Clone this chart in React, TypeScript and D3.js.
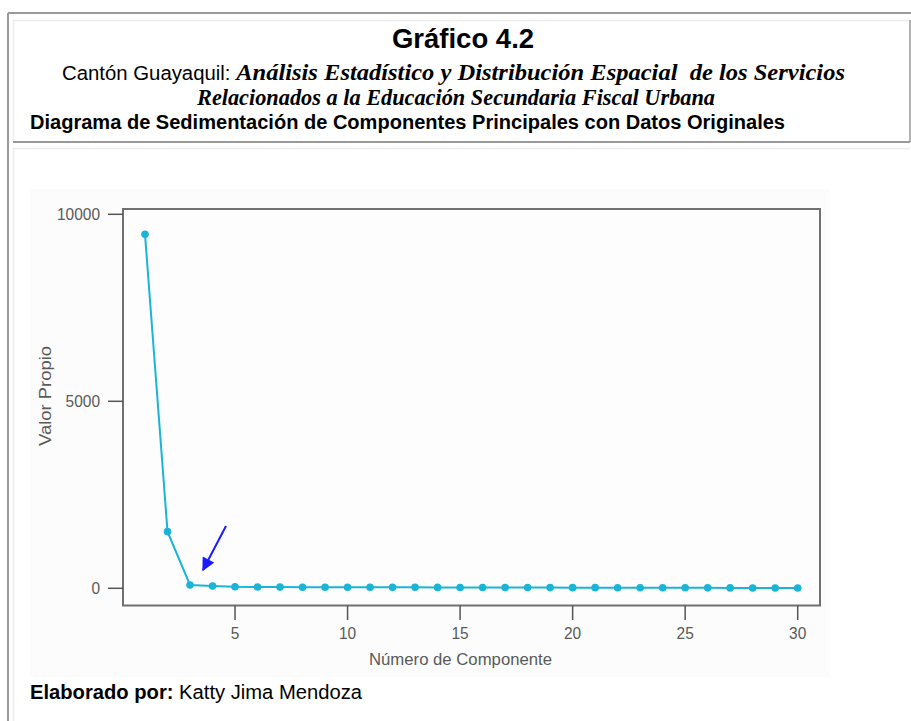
import React from "react";
import * as d3 from "d3";

const components = d3.range(1, 31);
const eigenvalues = [
  9465, 1515, 90, 60, 40, 35, 32, 30, 29, 28, 27, 26, 25, 24, 23, 22, 21, 20, 19, 18, 17, 16, 15, 14, 13, 12, 11, 10, 9, 8,
];
const xTicks = [5, 10, 15, 20, 25, 30];
const yTicks = [0, 5000, 10000];

const W = 911;
const H = 721;
const plot = { left: 123, top: 209, right: 820, bottom: 605.5 };

export default function App() {
  const x = d3.scaleLinear().domain([1, 30]).range([145, 797.7]);
  const y = d3.scaleLinear().domain([0, 10000]).range([588.3, 214.3]);
  const line = d3
    .line<number>()
    .x((_, i) => x(components[i]))
    .y((d) => y(d));

  const sans = "'Liberation Sans', Arial, sans-serif";
  const serif = "'Liberation Serif', 'Times New Roman', serif";
  const axisFont = "'Liberation Sans', Arial, sans-serif";
  const axisColor = "#5a5a5a";
  const lineColor = "#1ab4d6";
  const digitW = 8.6;

  return (
    <svg
      width={W}
      height={H}
      style={{ position: "absolute", left: 0, top: 0, background: "#fff" }}
    >
      {/* outer frame */}
      <line x1={8} y1={13} x2={W} y2={13} stroke="#9a9a9a" strokeWidth={2} />
      <line x1={8} y1={13} x2={8} y2={H} stroke="#9a9a9a" strokeWidth={2} />
      {/* header cell */}
      <line x1={13} y1={20.5} x2={910} y2={20.5} stroke="#ececec" strokeWidth={1.5} />
      <line x1={13.5} y1={20} x2={13.5} y2={142} stroke="#ececec" strokeWidth={1.5} />
      <line x1={13} y1={142} x2={910} y2={142} stroke="#9a9a9a" strokeWidth={2} />
      <line x1={910} y1={20} x2={910} y2={142} stroke="#9a9a9a" strokeWidth={1.5} />
      {/* chart cell */}
      <line x1={13} y1={148.5} x2={910} y2={148.5} stroke="#ececec" strokeWidth={1.5} />
      <line x1={13.5} y1={148} x2={13.5} y2={H} stroke="#ececec" strokeWidth={1.5} />

      {/* header text */}
      <text x={463} y={48} textAnchor="middle" fontFamily={sans} fontWeight="bold" fontSize={27.5}>
        Gráfico 4.2
      </text>
      <text x={62} y={79.5} textLength={783} lengthAdjust="spacingAndGlyphs">
        <tspan fontFamily={sans} fontSize={19.5}>
          Cantón Guayaquil:{" "}
        </tspan>
        <tspan fontFamily={serif} fontStyle="italic" fontWeight="bold" fontSize={23.5}>
          Análisis Estadístico y Distribución Espacial{"\u00a0 "}de los Servicios
        </tspan>
      </text>
      <text
        x={197}
        y={105}
        fontFamily={serif}
        fontStyle="italic"
        fontWeight="bold"
        fontSize={22.5}
        textLength={518}
        lengthAdjust="spacingAndGlyphs"
      >
        Relacionados a la Educación Secundaria Fiscal Urbana
      </text>
      <text
        x={30}
        y={128.5}
        fontFamily={sans}
        fontWeight="bold"
        fontSize={20}
        textLength={755}
        lengthAdjust="spacingAndGlyphs"
      >
        Diagrama de Sedimentación de Componentes Principales con Datos Originales
      </text>

      {/* chart background */}
      <rect x={30} y={189} width={800} height={488} fill="#fcfcfc" />

      {/* plot box */}
      <rect
        x={plot.left}
        y={plot.top}
        width={plot.right - plot.left}
        height={plot.bottom - plot.top}
        fill="#fdfdfd"
        stroke="#707070"
        strokeWidth={2}
      />

      {/* y axis */}
      {yTicks.map((t) => (
        <g key={"y" + t}>
          <line x1={108} x2={plot.left} y1={y(t)} y2={y(t)} stroke="#555" strokeWidth={1.5} />
          <text
            x={100 - String(t).length * digitW}
            y={y(t) + 6}
            fontFamily={axisFont}
            fontSize={17}
            fill={axisColor}
            textLength={String(t).length * digitW}
            lengthAdjust="spacingAndGlyphs"
          >
            {t}
          </text>
        </g>
      ))}
      <text
        transform={`translate(51, 396) rotate(-90)`}
        x={-50}
        fontFamily={axisFont}
        fontSize={16}
        fill={axisColor}
        textLength={100}
        lengthAdjust="spacingAndGlyphs"
      >
        Valor Propio
      </text>

      {/* x axis */}
      {xTicks.map((t) => (
        <g key={"x" + t}>
          <line x1={x(t)} x2={x(t)} y1={plot.bottom} y2={620} stroke="#555" strokeWidth={1.5} />
          <text
            x={x(t) - (String(t).length * digitW) / 2}
            y={638.5}
            fontFamily={axisFont}
            fontSize={17}
            fill={axisColor}
            textLength={String(t).length * digitW}
            lengthAdjust="spacingAndGlyphs"
          >
            {t}
          </text>
        </g>
      ))}
      <text
        x={369}
        y={665}
        fontFamily={axisFont}
        fontSize={17}
        fill={axisColor}
        textLength={183}
        lengthAdjust="spacingAndGlyphs"
      >
        Número de Componente
      </text>

      {/* series */}
      <path d={line(eigenvalues) || ""} fill="none" stroke={lineColor} strokeWidth={2} />
      {eigenvalues.map((v, i) => (
        <circle key={i} cx={x(components[i])} cy={y(v)} r={3.8} fill={lineColor} />
      ))}

      {/* arrow annotation */}
      <defs>
        <marker
          id="ah"
          viewBox="0 0 10 10"
          refX={9}
          refY={5}
          markerWidth={7}
          markerHeight={6.5}
          orient="auto"
          markerUnits="strokeWidth"
        >
          <path d="M0,0 L10,5 L0,10 z" fill="#1a1aff" />
        </marker>
      </defs>
      <line x1={226} y1={526} x2={203} y2={570} stroke="#1a1aff" strokeWidth={2} markerEnd="url(#ah)" />

      {/* footer */}
      <text
        x={30}
        y={699}
        fontFamily={sans}
        fontSize={19.5}
        textLength={332}
        lengthAdjust="spacingAndGlyphs"
      >
        <tspan fontWeight="bold">Elaborado por:</tspan>
        <tspan> Katty Jima Mendoza</tspan>
      </text>
    </svg>
  );
}
